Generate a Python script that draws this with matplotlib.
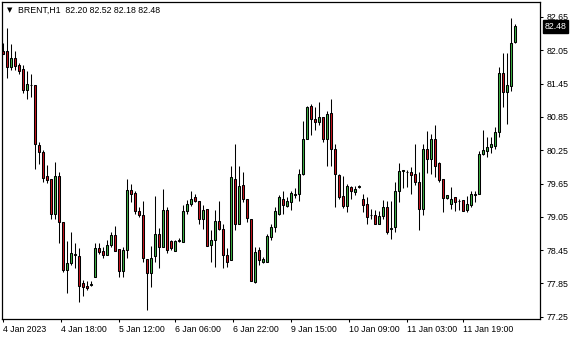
import matplotlib
matplotlib.use("Agg")
import matplotlib.pyplot as plt
import matplotlib.transforms as mtransforms

# H1 candles, oldest first
opens = [82.04, 82.04, 81.75, 81.92, 81.78, 81.71, 81.33, 81.43, 81.43, 80.34,
         80.21, 79.79, 79.74, 79.10, 79.78, 78.96, 78.10, 78.22, 78.37, 78.34,
         77.85, 77.81, 77.83, 77.96, 78.48, 78.43, 78.36, 78.55, 78.73, 78.47,
         78.08, 78.46, 79.53, 79.48, 79.15, 79.08, 78.29, 78.04, 78.35, 78.75,
         78.51, 79.17, 78.61, 78.43, 78.62, 78.59, 79.15, 79.28, 79.40, 79.34,
         79.01, 79.19, 78.54, 78.63, 78.97, 78.83, 78.37, 78.27, 79.74, 78.93,
         79.62, 79.38, 79.02, 77.88, 78.45, 78.24, 78.23, 78.69, 78.87, 79.11,
         79.38, 79.25, 79.31, 79.45, 79.46, 79.82, 80.45, 81.05, 80.81, 80.76,
         80.84, 80.46, 80.92, 80.28, 79.80, 79.43, 79.25, 79.58, 79.50, 79.59,
         79.37, 79.28, 79.08, 79.09, 78.93, 79.06, 79.23, 78.84, 78.87, 79.52,
         79.88, 79.86, 79.85, 79.82, 79.67, 79.19, 80.28, 80.09, 80.46, 80.02,
         79.73, 79.39, 79.28, 79.40, 79.34, 79.35, 79.17, 79.26, 79.45, 79.46,
         80.19, 80.24, 80.30, 80.33, 80.58, 81.65, 81.30, 81.40, 82.20]
highs = [82.18, 82.45, 82.16, 82.04, 81.82, 81.79, 81.68, 81.62, 81.43, 80.40,
         80.25, 79.98, 79.74, 80.03, 79.85, 78.96, 78.61, 78.77, 78.58, 78.49,
         77.91, 77.89, 77.89, 78.57, 78.57, 78.51, 78.64, 78.77, 78.88, 78.47,
         78.51, 79.74, 79.65, 79.52, 79.23, 79.33, 78.29, 78.52, 79.42, 78.85,
         79.56, 79.23, 78.64, 78.64, 78.67, 79.26, 79.35, 79.52, 79.46, 79.34,
         79.26, 79.19, 78.81, 79.17, 79.33, 78.92, 78.48, 79.97, 80.37, 79.97,
         79.85, 79.38, 79.02, 78.51, 78.51, 78.32, 78.75, 78.93, 79.22, 79.44,
         79.52, 79.41, 79.52, 79.57, 79.91, 80.78, 81.05, 81.08, 81.02, 81.12,
         80.84, 80.96, 81.17, 80.37, 79.83, 79.78, 79.64, 79.61, 79.61, 79.62,
         79.46, 79.41, 79.20, 79.17, 79.15, 79.35, 79.33, 79.33, 79.68, 80.02,
         79.89, 79.89, 79.94, 80.37, 79.86, 80.36, 80.60, 80.54, 80.70, 80.04,
         79.73, 79.44, 79.58, 79.40, 79.37, 79.35, 79.43, 79.51, 79.52, 80.24,
         80.61, 80.48, 80.49, 80.66, 81.75, 82.01, 82.00, 82.63, 82.52]
lows = [81.99, 81.56, 81.70, 81.70, 81.62, 81.28, 81.17, 81.21, 79.91, 80.01,
        79.68, 79.66, 79.01, 79.02, 78.58, 78.06, 77.67, 78.18, 78.12, 77.51,
        77.62, 77.73, 77.80, 77.96, 78.38, 78.30, 78.36, 78.51, 78.44, 77.96,
        77.97, 78.30, 79.32, 79.11, 79.05, 78.24, 77.38, 77.79, 78.23, 78.12,
        78.51, 78.39, 78.45, 78.43, 78.60, 78.59, 79.11, 79.25, 79.31, 78.93,
        78.84, 78.53, 78.24, 78.14, 78.81, 78.12, 78.15, 78.27, 78.81, 78.93,
        79.32, 78.96, 77.90, 77.85, 78.18, 78.21, 78.23, 78.64, 78.78, 79.08,
        79.11, 79.22, 79.17, 79.39, 79.33, 79.80, 80.45, 80.52, 80.61, 80.70,
        80.40, 79.97, 79.97, 79.23, 79.38, 79.21, 79.13, 79.37, 79.44, 79.57,
        79.13, 78.93, 79.02, 78.93, 78.93, 79.02, 78.75, 78.65, 78.78, 79.32,
        79.57, 79.59, 79.46, 79.62, 78.81, 79.08, 79.84, 79.83, 79.77, 79.68,
        79.14, 79.37, 79.19, 79.16, 79.17, 79.16, 79.14, 79.23, 79.32, 79.46,
        80.16, 80.13, 80.20, 80.28, 80.48, 81.03, 80.73, 81.32, 82.18]
closes = [81.99, 81.75, 81.92, 81.77, 81.68, 81.33, 81.44, 81.42, 80.36, 80.21,
          79.75, 79.71, 79.10, 79.79, 78.95, 78.10, 78.21, 78.39, 78.37, 77.81,
          77.79, 77.76, 77.84, 78.48, 78.41, 78.36, 78.55, 78.72, 78.44, 78.08,
          78.45, 79.53, 79.47, 79.15, 79.08, 78.30, 78.03, 78.31, 78.75, 78.51,
          79.18, 78.46, 78.49, 78.61, 78.63, 79.15, 79.28, 79.38, 79.33, 79.01,
          79.17, 78.53, 78.63, 78.97, 78.83, 78.37, 78.23, 79.76, 78.93, 79.60,
          79.37, 79.03, 77.90, 78.42, 78.28, 78.29, 78.70, 78.86, 79.15, 79.40,
          79.26, 79.33, 79.48, 79.46, 79.83, 80.46, 81.02, 80.81, 80.75, 80.85,
          80.46, 80.90, 80.27, 79.82, 79.41, 79.25, 79.60, 79.52, 79.55, 79.60,
          79.27, 79.05, 79.08, 78.93, 79.06, 79.23, 78.78, 78.85, 79.52, 79.88,
          79.89, 79.85, 79.80, 79.68, 79.19, 80.28, 80.09, 80.46, 79.97, 79.71,
          79.39, 79.44, 79.38, 79.32, 79.33, 79.16, 79.28, 79.46, 79.46, 80.19,
          80.25, 80.31, 80.36, 80.58, 81.64, 81.29, 81.42, 82.19, 82.48]

price_ticks = [77.25, 77.85, 78.45, 79.05, 79.65, 80.25, 80.85, 81.45, 82.05, 82.65]
date_labels = ["4 Jan 2023", "4 Jan 18:00", "5 Jan 12:00", "6 Jan 06:00",
               "6 Jan 22:00", "9 Jan 15:00", "10 Jan 09:00", "11 Jan 03:00",
               "11 Jan 19:00"]
date_bars = [0, 14.5, 29, 43, 57.5, 72, 86.5, 101, 115]
symbol = "BRENT,H1"

up_col = "#3cb043"
down_col = "#c8141e"

plt.rcParams["font.family"] = ["Liberation Sans", "DejaVu Sans"]
plt.rcParams["font.size"] = 6.3

fig = plt.figure(figsize=(5.8, 3.4), dpi=100)
ax = fig.add_axes([2 / 580, 21 / 340, 538 / 580, 317 / 340])

x = list(range(len(opens)))
ax.vlines(x, lows, highs, color="black", linewidth=0.75, zorder=1)

bottoms = [min(o, c) for o, c in zip(opens, closes)]
heights = [max(abs(c - o), 0.012) for o, c in zip(opens, closes)]
colors = [up_col if c >= o else down_col for o, c in zip(opens, closes)]
ax.bar(x, heights, bottom=bottoms, width=0.5, color=colors,
       edgecolor="black", linewidth=0.75, zorder=2)

ax.set_xlim(-0.25, 134.25)
ax.set_ylim(77.21, 82.92)

ax.yaxis.tick_right()
ax.set_yticks(price_ticks)
ax.set_yticklabels([f"{p:.2f}" for p in price_ticks])
ax.set_xticks(date_bars)
ax.set_xticklabels(date_labels, ha="left")
ax.tick_params(axis="both", direction="out", length=2.5, width=0.75,
               color="black", labelcolor="black")
ax.tick_params(axis="y", pad=2)
ax.tick_params(axis="x", pad=2)
for s in ax.spines.values():
    s.set_linewidth(0.9)
    s.set_color("black")

# current price marker on the price scale
trans = mtransforms.blended_transform_factory(ax.transAxes, ax.transData)
ax.text(1.008, closes[-1], f"{closes[-1]:.2f}", transform=trans,
        color="white", va="center", ha="left",
        bbox=dict(boxstyle="square,pad=0.2", fc="black", ec="black"))

# header line
header = f"{symbol}  {opens[-1]:.2f} {highs[-1]:.2f} {lows[-1]:.2f} {closes[-1]:.2f}"
fig.text(7 / 580, 1 - 10 / 340, "\u25bc", fontsize=5, va="center", ha="left",
         family="DejaVu Sans")
fig.text(18 / 580, 1 - 10 / 340, header, va="center", ha="left")

fig.savefig("out.png", dpi=100)
